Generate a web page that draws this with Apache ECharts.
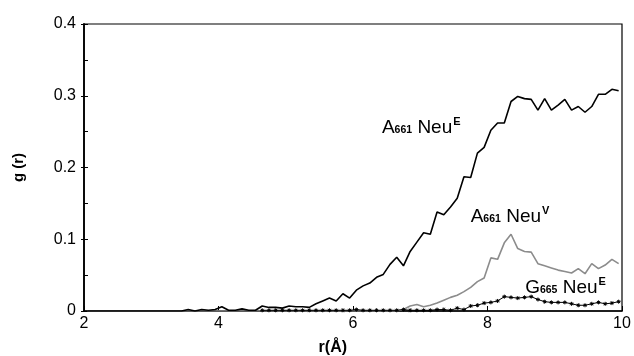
<!DOCTYPE html>
<html>
<head>
<meta charset="utf-8">
<script src="https://cdn.jsdelivr.net/npm/echarts@6/dist/echarts.min.js"></script>
<style>html,body{margin:0;padding:0;background:#fff}#c{width:634px;height:356px}</style>
</head>
<body>
<div id="c"></div>
<script>
// r values (Å), midpoints of 0.1 Å bins
const rValues = [];
for (let i = 0; i < 80; i++) rValues.push(+(2.05 + 0.1 * i).toFixed(2));

// A661 NeuE (black)
const a661NeuE = [
  0,0,0,0,0,0,0,0,0,0,0,0,0,0,0,
  0.002,0,0.002,0.001,0.002,
  0.006,0.001,0.001,0.003,0.001,0.001,0.007,0.005,0.005,0.004,
  0.007,0.006,0.006,0.005,0.010,0.014,0.018,0.014,0.024,0.018,
  0.029,0.035,0.039,0.047,0.051,0.065,0.075,0.063,0.083,0.096,
  0.109,0.107,0.138,0.134,0.145,0.157,0.187,0.186,0.220,0.228,
  0.252,0.262,0.262,0.292,0.299,0.296,0.295,0.280,0.296,0.280,
  0.287,0.295,0.280,0.285,0.277,0.285,0.302,0.302,0.309,0.307
];

// A661 NeuV (grey)
const a661NeuV = [
  0,0,0,0,0,0,0,0,0,0,0,0,0,0,0,
  0,0,0,0,0,
  0,0,0,0,0,0,0,0,0,0,
  0,0,0,0,0,0,0,0,0,0,
  0,0,0,0,0,0,0,0.002,0.007,0.009,
  0.006,0.008,0.011,0.015,0.019,0.022,0.027,0.033,0.041,0.046,
  0.074,0.072,0.095,0.107,0.087,0.083,0.082,0.066,0.063,0.060,
  0.057,0.055,0.053,0.059,0.052,0.066,0.059,0.064,0.072,0.066
];

// G665 NeuE (black with asterisks)
const g665NeuE = [
  null,null,null,null,null,null,null,null,null,null,null,null,null,null,null,
  null,null,null,null,null,
  null,null,null,null,null,null,0.001,0.001,0.001,0.001,
  0.001,0.001,0.001,0.001,0.001,0.001,0.001,0.001,0.001,0.001,
  0.002,0.001,0.001,0.001,0.001,0.001,0.001,0.002,0.001,0.001,
  0.001,0.001,0.002,0.002,0.001,0.004,0.002,0.007,0.008,0.011,
  0.012,0.014,0.020,0.019,0.018,0.019,0.020,0.016,0.013,0.012,
  0.012,0.012,0.010,0.008,0.008,0.010,0.012,0.010,0.011,0.013
];

const xTicks = [2, 4, 6, 8, 10];
const yTicks = [0, 0.1, 0.2, 0.3, 0.4];

const FONT = '"Liberation Sans", Arial, sans-serif';
const pairs = (ys) => rValues.map((x, i) => [x, ys[i]]);

const chart = echarts.init(document.getElementById('c'), null, {renderer: 'canvas'});
const option = {
  animation: false,
  backgroundColor: '#fff',
  grid: {left: 84, right: 12, top: 24, bottom: 45, show: true, borderColor: '#000', borderWidth: 1.2, backgroundColor: 'transparent'},
  xAxis: {
    type: 'value', min: xTicks[0], max: xTicks[xTicks.length - 1], interval: 2,
    axisLine: {lineStyle: {color: '#000', width: 1.5}},
    axisTick: {inside: true, length: 5, lineStyle: {color: '#000'}},
    axisLabel: {color: '#000', fontSize: 16, fontFamily: FONT, margin: 5},
    splitLine: {show: false}
  },
  yAxis: [{
    type: 'value', min: yTicks[0], max: yTicks[yTicks.length - 1], interval: 0.1,
    name: 'g (r)', nameLocation: 'middle', nameGap: 58, nameRotate: 90,
    nameTextStyle: {color: '#000', fontSize: 15, fontWeight: 'bold', fontFamily: FONT},
    axisLine: {show: true, lineStyle: {color: '#000', width: 1.8}},
    axisTick: {show: true, inside: false, length: 3, lineStyle: {color: '#000'}},
    axisLabel: {color: '#000', fontSize: 16, fontFamily: FONT, margin: 8},
    splitLine: {show: false}
  }, {
    type: 'value', min: 0, max: 0.4, interval: 0.05, position: 'left',
    axisLine: {show: false},
    axisTick: {show: true, inside: true, length: 4, lineStyle: {color: '#000'}},
    axisLabel: {show: false},
    splitLine: {show: false}
  }],
  series: [
    {
      name: 'A661 NeuV', type: 'line', data: pairs(a661NeuV), showSymbol: false,
      lineStyle: {color: '#8c8c8c', width: 1.6}, z: 2
    },
    {
      name: 'G665 NeuE', type: 'line', data: pairs(g665NeuE),
      symbol: 'path://M5,0L5,10M0,5L10,5M1.5,1.5L8.5,8.5M1.5,8.5L8.5,1.5', symbolSize: 4,
      itemStyle: {color: '#000', borderColor: '#000', borderWidth: 1},
      lineStyle: {color: '#000', width: 1}, z: 3
    },
    {
      name: 'A661 NeuE', type: 'line', data: pairs(a661NeuE), showSymbol: false,
      lineStyle: {color: '#000', width: 1.6}, z: 4
    }
  ]
};
chart.setOption(option);

const labels = [
  {main: 'A', sub: '661', rest: ' Neu', sup: 'E', at: [6.43, 0.256]},
  {main: 'A', sub: '661', rest: ' Neu', sup: 'V', at: [7.75, 0.132]},
  {main: 'G', sub: '665', rest: ' Neu', sup: 'E', at: [8.56, 0.033]}
];
const rich = {
  m: {fontSize: 19, fontFamily: FONT, fill: '#000', lineHeight: 24, verticalAlign: 'middle'},
  b: {fontSize: 10.5, fontWeight: 'bold', fontFamily: FONT, fill: '#000', lineHeight: 24, verticalAlign: 'bottom', padding: [0, 0, 4, 0]},
  t: {fontSize: 11, fontWeight: 'bold', fontFamily: FONT, fill: '#000', lineHeight: 24, verticalAlign: 'top', padding: [1, 0, 0, 1]}
};
const graphics = labels.map(l => {
  const p = chart.convertToPixel({gridIndex: 0}, l.at);
  return {
    type: 'text', x: p[0], y: p[1], z: 10,
    style: {text: `{m|${l.main}}{b|${l.sub}}{m|${l.rest}}{t|${l.sup}}`, rich, align: 'left', verticalAlign: 'middle'}
  };
});
const xp = chart.convertToPixel({gridIndex: 0}, [5.7, 0]);
graphics.push({
  type: 'text', x: xp[0], y: 348, z: 10,
  style: {text: 'r(Å)', fontSize: 16, fontWeight: 'bold', fontFamily: FONT, fill: '#000', align: 'center', verticalAlign: 'middle'}
});
chart.setOption({graphic: graphics});
</script>
</body>
</html>
